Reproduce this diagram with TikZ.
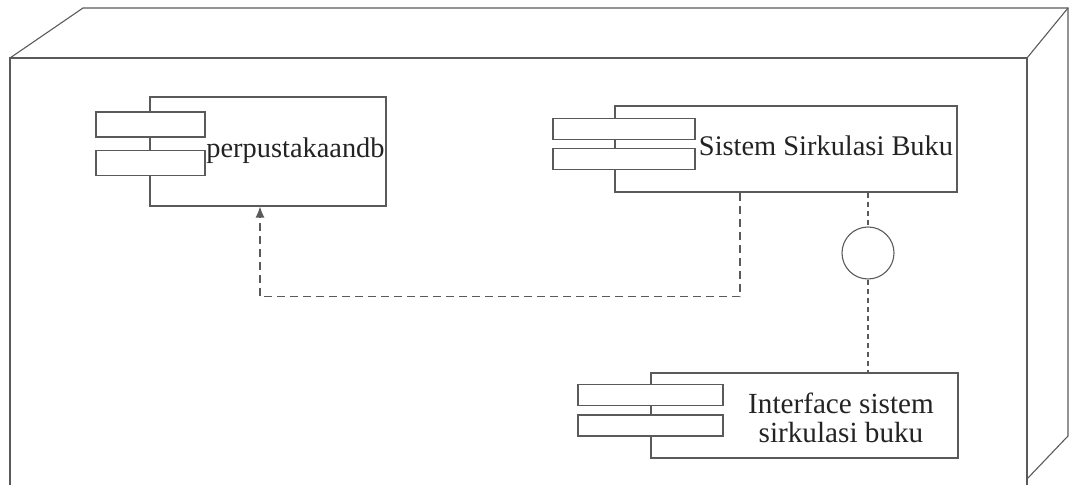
\documentclass[tikz,border=0pt]{standalone}
\usepackage{fontspec}
\setmainfont{Liberation Serif}
\usetikzlibrary{arrows.meta}
\definecolor{linegray}{RGB}{90,90,90}
\definecolor{textgray}{RGB}{35,35,35}
\begin{document}
\begin{tikzpicture}[
    % styles
    x=0.5pt, y=-0.5pt,
    line width=0.55pt,
    draw=linegray,
    comp/.style={draw=linegray, rectangle, inner sep=0pt},
    port/.style={comp, fill=white},
    lbl/.style={text=textgray, inner sep=0pt, align=center},
    dep/.style={draw=linegray, dash pattern=on 4pt off 2.5pt, -{Latex[length=5.5pt,width=4.5pt]}},
    link/.style={draw=linegray, dash pattern=on 2.5pt off 2pt}
]
    \useasboundingbox (0,0) rectangle (1072,485);

    % --- 1. node (3D box) ---
    \draw (10,485) -- (10,58) -- (1027,58) -- (1027,485);
    \draw (10,58) -- (83,8) -- (1068,8) -- (1068,436) -- (1027,479);
    \draw (1027,58) -- (1068,8);

    % --- 2. component perpustakaandb ---
    \node[comp, minimum width=118pt, minimum height=54.5pt] (db) at (268,151.5) {};
    \node[port, minimum width=54.5pt, minimum height=12.5pt] (db-p1) at (150.5,124.5) {};
    \node[port, minimum width=54.5pt, minimum height=12.5pt] (db-p2) at (150.5,163) {};
    \node[lbl, font=\fontsize{14.2}{15}\selectfont] (db-lbl) at (295.5,151) {perpustakaandb};

    % --- 3. component Sistem Sirkulasi Buku ---
    \node[comp, minimum width=171pt, minimum height=43pt] (sys) at (786,149) {};
    \node[port, minimum width=71pt, minimum height=10.5pt] (sys-p1) at (624,129) {};
    \node[port, minimum width=71pt, minimum height=10.5pt] (sys-p2) at (624,159) {};
    \node[lbl, font=\fontsize{14.2}{15}\selectfont] (sys-lbl) at (826,146) {Sistem Sirkulasi Buku};

    % --- 4. component Interface ---
    \node[comp, minimum width=153.5pt, minimum height=42.5pt] (ui) at (804.5,415.5) {};
    \node[port, minimum width=72.5pt, minimum height=10.5pt] (ui-p1) at (650.5,395) {};
    \node[port, minimum width=72.5pt, minimum height=10.5pt] (ui-p2) at (650.5,425.5) {};
    \node[lbl, font=\fontsize{14.6}{14.5}\selectfont] (ui-lbl) at (841,418) {Interface sistem\\sirkulasi buku};

    % --- 5. interface circle ---
    \node[comp, circle, minimum size=26pt] (iface) at (868,253) {};

    % --- 6. connectors ---
    \draw[dep] ([xshift=-23pt]sys.south) -- ++(0,104) -| ([xshift=-4pt]db.south);
    \draw[link] (sys.south -| iface) -- (iface);
    \draw[link] (iface) -- (ui.north -| iface);

\end{tikzpicture}
\end{document}
